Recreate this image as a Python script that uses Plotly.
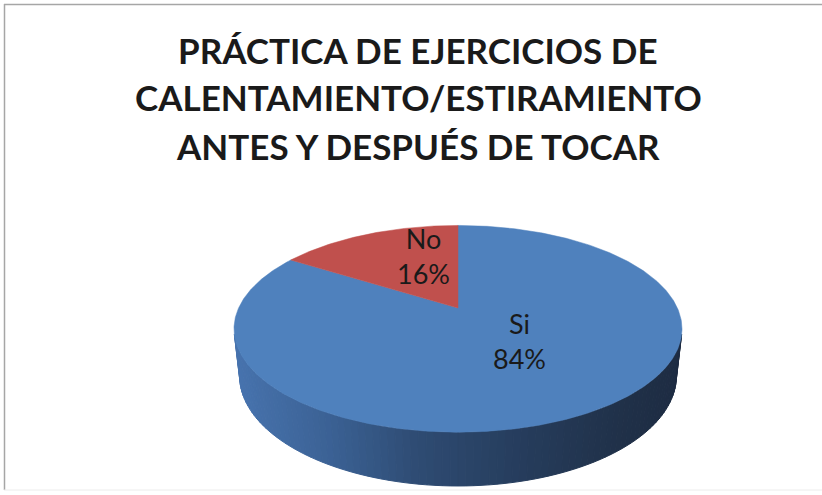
import numpy as np
import plotly.graph_objects as go

# ---- data ----
labels = ["Si", "No"]
values = [84, 16]
colors_top = ["#4F81BD", "#C0504D"]
title_lines = ["PRÁCTICA DE EJERCICIOS DE", "CALENTAMIENTO/ESTIRAMIENTO", "ANTES Y DESPUÉS DE TOCAR"]

# ---- geometry of the 3D pie (perspective projection) ----
W, H = 822, 495
cx, cy = 458.0, 308.0
f = 972.0
d = 4.43
s_t = 0.452
c_t = np.sqrt(1 - s_t**2)
h = 0.242


def proj(X, Y, Z):
    X, Y, Z = np.asarray(X, float), np.asarray(Y, float), np.asarray(Z, float)
    v = Y * s_t + Z * c_t
    w = d + Y * c_t - Z * s_t
    return cx + f * X / w, cy - f * v / w


def hex2rgb(hx):
    hx = hx.lstrip("#")
    return np.array([int(hx[i:i + 2], 16) for i in (0, 2, 4)], float)


def rgb2hex(c):
    return "#%02x%02x%02x" % tuple(int(round(v)) for v in c)


fig = go.Figure()

# visible side of the cylinder, shaded in vertical strips
k = 1.0 / (d * c_t)
a0 = np.pi + np.arcsin(k)
a1 = 2 * np.pi - np.arcsin(k)
n_strips = 90
edges = np.linspace(a0, a1, n_strips + 1)
shade_x = [235, 330, 420, 520, 620, 685]
shade_c = [hex2rgb(c) for c in ["#4773ae", "#3b6194", "#2e4b72", "#263d5d", "#203149", "#1d2b42"]]
for i in range(n_strips):
    aa = np.linspace(edges[i], edges[i + 1], 4)
    X = np.cos(aa)
    Y = np.sin(aa)
    xt, yt = proj(X, Y, np.zeros_like(X))
    xb, yb = proj(X, Y, -h * np.ones_like(X))
    px = np.concatenate([xt, xb[::-1], xt[:1]])
    py = np.concatenate([yt, yb[::-1], yt[:1]])
    mx = float(np.mean(xt))
    col = np.array([np.interp(mx, shade_x, [c[j] for c in shade_c]) for j in range(3)])
    hc = rgb2hex(col)
    fig.add_trace(go.Scatter(x=px, y=py, mode="lines", fill="toself", fillcolor=hc,
                             line=dict(color=hc, width=1), hoverinfo="skip", showlegend=False))

# top faces of the slices, clockwise from 12 o'clock
total = float(sum(values))
start = 0.0
label_pos = []
for lab, val, col in zip(labels, values, colors_top):
    span = 2 * np.pi * val / total
    bb = np.linspace(start, start + span, max(int(span / 0.01), 10))
    X = np.concatenate([[0], np.sin(bb), [0]])
    Y = np.concatenate([[0], np.cos(bb), [0]])
    px, py = proj(X, Y, np.zeros_like(X))
    fig.add_trace(go.Scatter(x=px, y=py, mode="lines", fill="toself", fillcolor=col,
                             line=dict(color=col, width=0.5), hoverinfo="skip", showlegend=False,
                             name=lab))
    label_pos.append(start + span / 2)
    start += span

# data labels
label_r = 0.5
label_shift = [(4, -14.5), (14, -12)]
for lab, val, mid, (dx, dy) in zip(labels, values, label_pos, label_shift):
    lx, ly = proj(label_r * np.sin(mid), label_r * np.cos(mid), 0.0)
    fig.add_annotation(x=float(lx) + dx, y=float(ly) + dy, text=f"{lab}<br>{val}%",
                       showarrow=False, xanchor="center", yanchor="middle",
                       font=dict(family="Lato", size=27, color="#1a1a1a"), align="center")

# title (three lines)
title_y = [49.5, 96.5, 145.5]
for line, ty in zip(title_lines, title_y):
    fig.add_annotation(x=418, y=ty, text=f"<b>{line}</b>", showarrow=False,
                       xanchor="center", yanchor="middle", align="center",
                       font=dict(family="Lato", size=35, color="#1a1a1a"))

# chart frame (top and left edges visible, bottom faint)
fig.add_shape(type="line", x0=4, y0=4.5, x1=W, y1=4.5, line=dict(color="#a6a6a6", width=1.5), layer="below")
fig.add_shape(type="line", x0=4.5, y0=4, x1=4.5, y1=490, line=dict(color="#a6a6a6", width=1.5), layer="below")
fig.add_shape(type="line", x0=4, y0=490, x1=W, y1=490, line=dict(color="#ececec", width=1), layer="below")

fig.update_layout(
    width=W, height=H, margin=dict(l=0, r=0, t=0, b=0),
    paper_bgcolor="white", plot_bgcolor="white",
    xaxis=dict(range=[0, W], visible=False, fixedrange=True),
    yaxis=dict(range=[H, 0], visible=False, fixedrange=True),
    showlegend=False,
)
fig.write_html("out.html")
